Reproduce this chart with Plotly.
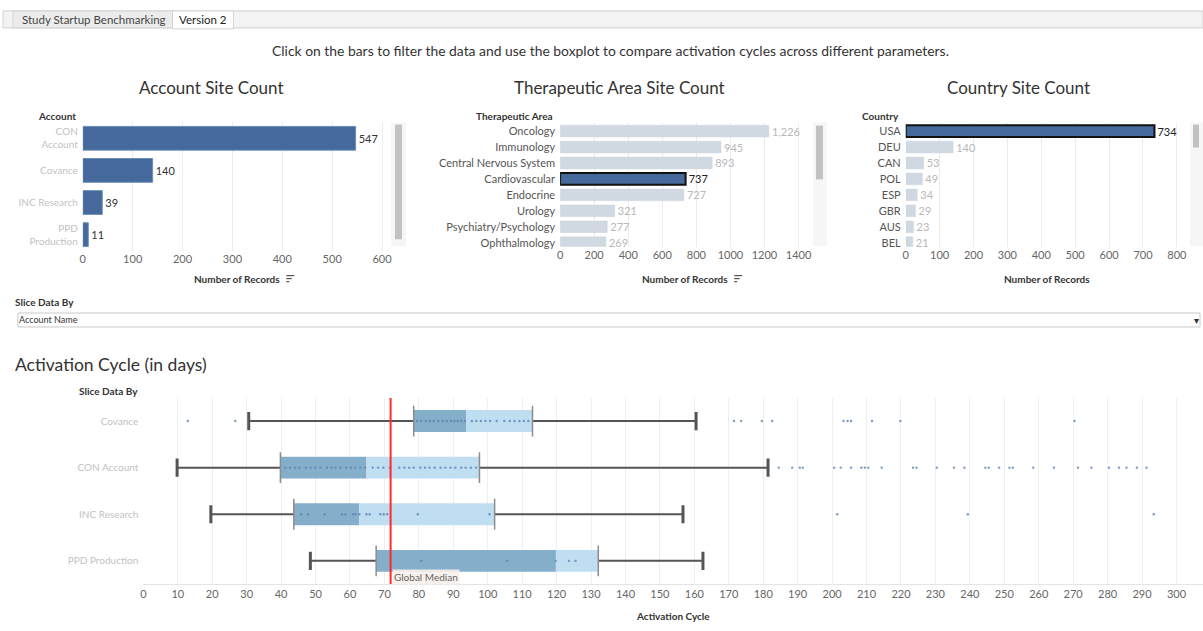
import plotly.graph_objects as go

W, H = 1203, 631
FONT = "Lato"


def px(x):
    return x / W


def py(y):
    return 1 - y / H


# ---------------- data ----------------
account_names = ["CON<br>Account", "Covance", "INC Research", "PPD<br>Production"]
account_counts = [547, 140, 39, 11]

ta_names = ["Oncology", "Immunology", "Central Nervous System", "Cardiovascular",
            "Endocrine", "Urology", "Psychiatry/Psychology", "Ophthalmology"]
ta_counts = [1226, 945, 893, 737, 727, 321, 277, 269]
ta_selected = "Cardiovascular"

country_names = ["USA", "DEU", "CAN", "POL", "ESP", "GBR", "AUS", "BEL"]
country_counts = [734, 140, 53, 49, 34, 29, 23, 21]
country_selected = "USA"

box_categories = ["Covance", "CON Account", "INC Research", "PPD Production"]
whisker_low = [30.6, 9.8, 19.6, 48.5]
q1 = [78.5, 39.8, 43.7, 67.6]
median = [93.7, 64.8, 62.7, 119.8]
q3 = [113.0, 97.6, 102.0, 132.1]
whisker_high = [160.5, 181.4, 156.7, 162.5]
global_median = 71.8

covance_points = [12.9, 26.7, 79.5, 80.7, 82.0, 83.2, 84.3, 85.6, 86.9, 88.1, 89.3, 90.3,
                  91.3, 92.3, 93.4, 95.4, 96.7, 98.0, 99.3, 100.7, 102.6, 104.8, 106.4,
                  107.8, 109.2, 110.5, 111.8, 171.5, 173.6, 179.6, 182.6, 203.3, 204.5,
                  205.5, 211.6, 219.8, 270.4]
con_points = [41.2, 42.6, 44.1, 45.3, 47.2, 48.6, 49.9, 51.4, 53.3, 54.6, 55.8, 57.2,
              58.9, 60.3, 61.5, 63.0, 64.4, 66.6, 68.2, 69.7, 71.6, 74.3, 75.8, 77.2,
              78.5, 80.4, 81.8, 83.1, 84.6, 86.3, 87.7, 89.2, 90.6, 92.3, 93.6, 95.1,
              96.6, 184.5, 188.4, 190.6, 191.5, 200.6, 202.5, 205.5, 208.5, 209.5, 210.5,
              214.4, 223.5, 224.5, 230.4, 235.4, 238.4, 244.5, 245.5, 248.5, 251.5, 252.5,
              258.4, 264.4, 271.4, 275.3, 280.4, 283.3, 285.5, 288.5, 291.3]
inc_points = [45.8, 47.8, 52.6, 57.7, 58.7, 60.9, 61.6, 62.7, 64.8, 65.7, 68.8, 69.8,
              70.8, 79.7, 100.5, 201.5, 239.4, 293.4]
ppd_points = [80.7, 105.7, 119.7, 123.6, 125.5]
point_lists = [covance_points, con_points, inc_points, ppd_points]

box_ticks = list(range(0, 301, 10))

# ---------------- colours ----------------
SEL = "#44699a"
UNSEL = "#d0d8e2"
GRID = "#ececec"
TICK = "#666666"
DARK_BOX = "#84aeca"
LIGHT_BOX = "#c0def2"

fig = go.Figure()

# ---- Account chart (x / y) ----
acc_y = list(range(len(account_names)))
fig.add_trace(go.Bar(
    x=account_counts, y=acc_y, orientation="h", width=0.74,
    marker=dict(color=SEL, line=dict(color="#6b8fba", width=1)),
    text=account_counts, textposition="outside", cliponaxis=False,
    constraintext="none", textfont=dict(color="#333333", size=11, family=FONT),
    xaxis="x", yaxis="y", showlegend=False, hoverinfo="skip"))

# ---- Therapeutic Area chart (x2 / y2) ----
ta_y = list(range(len(ta_names)))
fig.add_trace(go.Bar(
    x=ta_counts, y=ta_y, orientation="h", width=0.74,
    marker=dict(color=[SEL if n == ta_selected else UNSEL for n in ta_names],
                line=dict(color=["#111111" if n == ta_selected else UNSEL for n in ta_names],
                          width=[2 if n == ta_selected else 0.5 for n in ta_names])),
    texttemplate="%{x:,}", textposition="outside", cliponaxis=False, constraintext="none",
    textfont=dict(color=["#222222" if n == ta_selected else "#b8b8b8" for n in ta_names],
                  size=11, family=FONT),
    xaxis="x2", yaxis="y2", showlegend=False, hoverinfo="skip"))

# ---- Country chart (x3 / y3) ----
c_y = list(range(len(country_names)))
fig.add_trace(go.Bar(
    x=country_counts, y=c_y, orientation="h", width=0.74,
    marker=dict(color=[SEL if n == country_selected else UNSEL for n in country_names],
                line=dict(color=["#111111" if n == country_selected else UNSEL for n in country_names],
                          width=[2 if n == country_selected else 0.5 for n in country_names])),
    text=country_counts, textposition="outside", cliponaxis=False, constraintext="none",
    textfont=dict(color=["#222222" if n == country_selected else "#b8b8b8" for n in country_names],
                  size=11, family=FONT),
    xaxis="x3", yaxis="y3", showlegend=False, hoverinfo="skip"))

# ---- Box plot (x4 / y4) ----
b_y = list(range(len(box_categories)))
fig.add_trace(go.Bar(
    x=[m - a for m, a in zip(median, q1)], base=q1, y=b_y, orientation="h", width=0.47,
    marker=dict(color=DARK_BOX, line=dict(width=0)),
    xaxis="x4", yaxis="y4", showlegend=False, hoverinfo="skip"))
fig.add_trace(go.Bar(
    x=[b - m for b, m in zip(q3, median)], base=median, y=b_y, orientation="h", width=0.47,
    marker=dict(color=LIGHT_BOX, line=dict(width=0)),
    xaxis="x4", yaxis="y4", showlegend=False, hoverinfo="skip"))

wx, wy = [], []
for i in b_y:
    wx += [whisker_low[i], q1[i], None, q3[i], whisker_high[i], None]
    wy += [i, i, None, i, i, None]
fig.add_trace(go.Scatter(
    x=wx, y=wy, mode="lines", line=dict(color="#555555", width=2),
    xaxis="x4", yaxis="y4", showlegend=False, hoverinfo="skip"))
fig.add_trace(go.Scatter(
    x=whisker_low + whisker_high, y=b_y + b_y, mode="markers",
    marker=dict(symbol="line-ns", size=13, line=dict(color="#555555", width=3)),
    xaxis="x4", yaxis="y4", showlegend=False, hoverinfo="skip"))
fig.add_trace(go.Scatter(
    x=q1 + q3, y=b_y + b_y, mode="markers",
    marker=dict(symbol="line-ns", size=22, line=dict(color="#8c8c8c", width=1.5)),
    xaxis="x4", yaxis="y4", showlegend=False, hoverinfo="skip"))

ptx, pty = [], []
for i, pts in enumerate(point_lists):
    ptx += pts
    pty += [i] * len(pts)
fig.add_trace(go.Scatter(
    x=ptx, y=pty, mode="markers",
    marker=dict(color="#5b84b1", size=2.4, opacity=0.8),
    xaxis="x4", yaxis="y4", showlegend=False, hoverinfo="skip"))

fig.add_trace(go.Scatter(
    x=[global_median, global_median], y=[-0.5, 3.5], mode="lines",
    line=dict(color="#ff2a2a", width=2),
    xaxis="x4", yaxis="y4", showlegend=False, hoverinfo="skip"))

# ---------------- axes ----------------
tickfont = dict(size=11, color=TICK, family=FONT)
catfont_blur = dict(size=10, color="#c2c2c2", family=FONT)
catfont = dict(size=11, color="#555555", family=FONT)

layout_axes = dict(
    xaxis=dict(domain=[px(80), px(390)], range=[0, 620], anchor="y",
               tickvals=[0, 100, 200, 300, 400, 500, 600], showgrid=True, gridcolor=GRID,
               zeroline=False, showline=False, tickfont=tickfont, fixedrange=True),
    yaxis=dict(domain=[py(251.5), py(122.6)], range=[3.5, -0.5], anchor="x",
               tickvals=acc_y, ticktext=account_names, tickfont=catfont_blur,
               showgrid=False, zeroline=False, ticklabelstandoff=4),
    xaxis2=dict(domain=[px(558.5), px(811.7)], range=[0, 1483], anchor="y2",
                tickvals=[0, 200, 400, 600, 800, 1000, 1200, 1400], showgrid=True,
                gridcolor=GRID, zeroline=False, showline=False, tickfont=tickfont),
    yaxis2=dict(domain=[py(247.5), py(123.5)], range=[7.25, -0.5], anchor="x2",
                tickvals=ta_y, ticktext=ta_names, tickfont=catfont,
                showgrid=False, zeroline=False, ticklabelstandoff=4),
    xaxis3=dict(domain=[px(905), px(1190.7)], range=[0, 841], anchor="y3",
                tickvals=[0, 100, 200, 300, 400, 500, 600, 700, 800], showgrid=True,
                gridcolor=GRID, zeroline=False, showline=False, tickfont=tickfont),
    yaxis3=dict(domain=[py(247.5), py(123.5)], range=[7.25, -0.5], anchor="x3",
                tickvals=c_y, ticktext=country_names, tickfont=catfont,
                showgrid=False, zeroline=False, ticklabelstandoff=4),
    xaxis4=dict(domain=[px(140.7), 1.0], range=[0, 307.7], anchor="y4",
                tickvals=box_ticks, showgrid=True, gridcolor="#efefef",
                zeroline=False, showline=True, linecolor="#e4e4e4", tickfont=tickfont),
    yaxis4=dict(domain=[py(586), py(399)], range=[3.5, -0.5], anchor="x4",
                tickvals=b_y, ticktext=box_categories, tickfont=catfont_blur,
                showgrid=False, zeroline=False, ticklabelstandoff=4),
)

# ---------------- decorations ----------------
shapes = []
annotations = []


def rect(x0, y0, x1, y1, fill, line=None, lw=1, layer="below"):
    shapes.append(dict(type="rect", xref="paper", yref="paper",
                       x0=px(x0), x1=px(x1), y0=py(y1), y1=py(y0),
                       fillcolor=fill, line=dict(color=line or fill, width=lw if line else 0),
                       layer=layer))


def text(x, y, s, size=11, color="#333333", xanchor="center", bold=False, **kw):
    annotations.append(dict(xref="paper", yref="paper", x=px(x), y=py(y),
                            text=("<b>%s</b>" % s) if bold else s, showarrow=False,
                            xanchor=xanchor, yanchor="middle",
                            font=dict(size=size, color=color, family=FONT), **kw))


# tab strip
rect(0, 11, 1203, 28, "#f3f3f3", "#d2d2d2")
rect(10, 11, 170, 28, "#ececec", "#d2d2d2")
rect(170, 11, 231, 29, "#ffffff", "#d2d2d2")
text(91, 19.5, "Study Startup Benchmarking", size=11.5, color="#444444")
text(200.5, 19.5, "Version 2", size=11.5, color="#222222")

text(609, 51, "Click on the bars to filter the data and use the boxplot to compare activation cycles across different parameters.",
     size=13.9, color="#333333")

# chart titles
text(209, 88, "Account Site Count", size=17, color="#333333")
text(618, 88, "Therapeutic Area Site Count", size=17, color="#333333")
text(1018, 88, "Country Site Count", size=17, color="#333333")

# headers
text(75, 116, "Account", size=10, bold=True, xanchor="right")
text(553, 116, "Therapeutic Area", size=10, bold=True, xanchor="right")
text(900, 116, "Country", size=10, bold=True, xanchor="right")

# axis titles
text(235, 279.5, "Number of Records", size=10, bold=True)
text(684, 279.5, "Number of Records", size=10, bold=True)
text(1047, 279.5, "Number of Records", size=10, bold=True)
for x0 in (284, 733):
    for k, ln in enumerate((8, 5.5, 3)):
        yy = 276.5 + k * 3
        shapes.append(dict(type="line", xref="paper", yref="paper",
                           x0=px(x0), x1=px(x0 + ln), y0=py(yy), y1=py(yy),
                           line=dict(color="#555555", width=1.2)))

# scrollbars
rect(389, 123, 404, 247, "#f6f6f6")
rect(393, 125, 400, 240, "#c2c2c2")
rect(812, 123, 826, 247, "#f6f6f6")
rect(815, 126, 822, 180, "#c2c2c2")
rect(1190, 123, 1203, 247, "#f6f6f6")
rect(1193, 125, 1199, 148, "#c2c2c2")

# slice dropdown
text(10, 303, "Slice Data By", size=10, bold=True, xanchor="left")
rect(15, 314, 1200, 328, "#ffffff", "#c9c9c9")
text(14, 321, "Account Name", size=9, color="#333333", xanchor="left")
text(1196, 321, "▾", size=10, color="#333333")

# box plot section
text(10, 366, "Activation Cycle (in days)", size=17.5, color="#333333", xanchor="left")
text(137, 392, "Slice Data By", size=10, bold=True, xanchor="right")
text(672, 618, "Activation Cycle", size=10, bold=True)

annotations.append(dict(xref="x4", yref="paper", x=global_median, y=py(578.5),
                        text="Global Median", showarrow=False, xanchor="left",
                        yanchor="middle", xshift=1,
                        font=dict(size=10, color="#666666", family=FONT),
                        bgcolor="rgba(246,239,235,0.9)", borderpad=1))

fig.update_layout(
    width=W, height=H, autosize=False,
    margin=dict(l=0, r=0, t=0, b=0),
    paper_bgcolor="white", plot_bgcolor="white",
    font=dict(family=FONT, color="#333333"),
    barmode="overlay", bargap=0.25,
    shapes=shapes, annotations=annotations,
    **layout_axes,
)

fig.write_html("out.html")
